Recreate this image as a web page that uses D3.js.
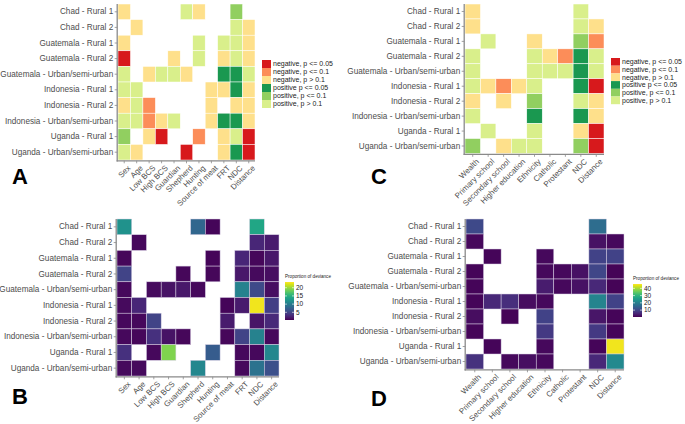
<!DOCTYPE html>
<html><head><meta charset="utf-8">
<script src="https://cdn.jsdelivr.net/npm/d3@7"></script>
<style>body{margin:0;background:#fff}svg{display:block;font-family:"Liberation Sans",Arial,sans-serif}</style>
</head><body><svg id="c" width="685" height="424"></svg>
<script>
const sites = ["Chad - Rural 1","Chad - Rural 2","Guatemala - Rural 1","Guatemala - Rural 2","Guatemala - Urban/semi-urban","Indonesia - Rural 1","Indonesia - Rural 2","Indonesia - Urban/semi-urban","Uganda - Rural 1","Uganda - Urban/semi-urban"];
const varsAB = ["Sex","Age","Low BCS","High BCS","Guardian","Shepherd","Hunting","Source of meat","FRT","NDC","Distance"];
const varsCD = ["Wealth","Primary school","Secondary school","Higher education","Ethnicity","Catholic","Protestant","NDC","Distance"];
const sigLabels = ["negative, p <= 0.05","negative, p <= 0.1","negative, p > 0.1","positive p <= 0.05","positive, p <= 0.1","positive, p > 0.1"];
const sigColors = ["#d7191c","#fc8d59","#fee08b","#1a9850","#91cf60","#d9ef8b"];
// codes: 0..5 index into sigLabels, null = no cell
const _ = null;
const sigA = [
 [2,_,_,_,_,5,2,_,_,4,_],
 [_,2,_,_,_,_,_,_,_,5,2],
 [2,_,_,_,_,_,5,_,5,5,2],
 [0,_,_,_,2,_,5,_,2,5,2],
 [5,_,2,5,5,2,_,_,3,3,5],
 [5,5,_,_,_,_,_,2,2,3,2],
 [2,5,1,_,_,_,_,2,_,2,2],
 [5,5,1,2,5,_,_,2,3,3,2],
 [4,_,2,0,_,_,1,_,2,5,0],
 [5,2,_,_,_,0,_,_,2,3,0]
];
const sigC = [
 [2,_,_,_,_,_,_,5,_],
 [2,_,_,_,_,_,_,5,2],
 [_,5,_,_,2,_,_,4,1],
 [5,_,_,_,5,2,1,3,5],
 [5,_,_,_,5,5,5,3,5],
 [5,2,1,2,5,_,_,3,0],
 [2,_,2,_,4,_,_,5,2],
 [5,_,_,_,3,_,_,3,2],
 [_,5,_,_,5,_,_,2,0],
 [4,_,2,5,5,_,_,4,0]
];
const devB = [
 [12,_,_,_,_,8,0.6,_,_,14,_],
 [_,0.8,_,_,_,_,_,_,_,2.8,2],
 [0.7,_,_,_,_,_,0.6,_,2.8,0.7,1.8],
 [5,_,_,_,0.7,_,0.7,_,1.8,0.9,1.2],
 [0.8,_,1,1.4,1.8,0.8,_,_,10.5,5.5,1.2],
 [0.9,2.8,_,_,_,_,_,0.6,2,23,4.5],
 [0.8,0.8,5,_,_,_,_,2,_,1.5,3],
 [0.8,0.7,3.5,1.4,0.7,_,_,0.7,5,10.5,0.8],
 [3.5,_,0.8,19,_,_,7,_,0.8,0.8,11],
 [0.9,0.9,_,_,_,11,_,_,0.8,9,6]
];
const devD = [
 [10.5,_,_,_,_,_,_,16.5,_],
 [1.5,_,_,_,_,_,_,2.5,1.5],
 [_,1.2,_,_,1.5,_,_,9.5,9.5],
 [1.2,_,_,_,1.5,1.5,2.5,10,1],
 [1.2,_,_,_,4,1.5,2.5,5.5,1],
 [1.2,5.5,6.5,2,1.5,_,_,21,9.5],
 [2,_,1,_,9.5,_,_,3,1.2],
 [1.2,_,_,_,8,_,_,8,1.2],
 [_,1.2,_,_,1.5,_,_,1.2,45],
 [7,_,1.5,2.2,1.5,_,_,5.5,22]
];
const ticksB = [5,10,15,20];
const ticksD = [10,20,30,40];

const svg = d3.select("#c");
const axisCol = "#8a8a8a", textCol = "#4d4d4d";
const FONT = '"Liberation Sans",Arial,sans-serif';

function panel(cfg){
  const g = svg.append("g");
  const x = d3.scaleBand().domain(cfg.vars).range([cfg.x0,cfg.x1]);
  const y = d3.scaleBand().domain(sites).range([cfg.y0,cfg.y1]);
  const cells = [];
  cfg.data.forEach((row,i)=>row.forEach((v,j)=>{ if(v!==null) cells.push({s:sites[i],v:cfg.vars[j],val:v}); }));
  g.selectAll("rect.cell").data(cells).join("rect")
   .attr("x",d=>x(d.v)).attr("y",d=>y(d.s))
   .attr("width",x.bandwidth()).attr("height",y.bandwidth())
   .attr("fill",d=>cfg.color(d.val))
   .attr("stroke",cfg.stroke).attr("stroke-width",0.5);
  const ya = d3.axisLeft(y).tickSize(2.5).tickPadding(1.5);
  const yg = g.append("g").attr("transform",`translate(${cfg.x0-0.8},0)`).call(ya);
  const xa = d3.axisBottom(x).tickSize(2.5).tickPadding(2);
  const xg = g.append("g").attr("transform",`translate(0,${cfg.y1+0.8})`).call(xa);
  [yg,xg].forEach(a=>{
    a.attr("font-family",FONT);
    a.select(".domain").attr("stroke",axisCol).attr("stroke-width",1.3);
    a.selectAll(".tick line").attr("stroke",axisCol).attr("stroke-width",0.8);
    a.selectAll("text").attr("fill",textCol).style("font-size","8.2px").style("font-family",FONT);
  });
  yg.select(".domain").attr("d",`M0,${cfg.y0}V${cfg.y1+1.6}`);
  xg.select(".domain").attr("d",`M${cfg.x0-1.4},0H${cfg.x1}`);
  xg.selectAll("text").style("font-size","7.9px").attr("text-anchor","end").attr("dy","0.72em")
    .attr("transform","translate(1,2) rotate(-45)").attr("y",2.5).attr("x",0);
  svg.append("text").attr("x",cfg.lx).attr("y",cfg.ly).text(cfg.letter)
   .style("font-size","22px").style("font-weight","bold").style("font-family",FONT).attr("fill","#000");
}

const sigColor = d3.scaleOrdinal().domain(d3.range(6)).range(sigColors);
const vB = d3.scaleSequential(d3.interpolateViridis).domain([0.3,23.5]);
const vD = d3.scaleSequential(d3.interpolateViridis).domain([0.5,46]);

panel({vars:varsAB,data:sigA,x0:118,x1:255,y0:4,y1:160,color:sigColor,stroke:"#ffffff",letter:"A",lx:12,ly:184});
panel({vars:varsCD,data:sigC,x0:465,x1:604,y0:4,y1:153.5,color:sigColor,stroke:"#ffffff",letter:"C",lx:371,ly:184});
panel({vars:varsAB,data:devB,x0:117,x1:279,y0:219,y1:376,color:vB,stroke:"#d9d2e6",letter:"B",lx:12,ly:404});
panel({vars:varsCD,data:devD,x0:466,x1:624,y0:219,y1:369,color:vD,stroke:"#d9d2e6",letter:"D",lx:371,ly:406});

function sigLegend(lx,ly,kh){
  const g = svg.append("g");
  sigLabels.forEach((lab,i)=>{
    g.append("rect").attr("x",lx).attr("y",ly+i*kh).attr("width",9).attr("height",kh).attr("fill",sigColors[i]);
    g.append("text").attr("x",lx+11).attr("y",ly+i*kh+kh/2).attr("dy","0.35em")
     .text(lab).style("font-size","7px").style("font-family",FONT).attr("fill","#222");
  });
}
sigLegend(262,60,8);
sigLegend(611,58,7.7);

function colorbar(cfg){
  const g = svg.append("g");
  const id = "grad"+cfg.id;
  const grad = svg.append("defs").append("linearGradient").attr("id",id)
    .attr("x1",0).attr("y1",1).attr("x2",0).attr("y2",0);
  d3.range(0,1.01,0.05).forEach(t=>grad.append("stop").attr("offset",t).attr("stop-color",d3.interpolateViridis(t)));
  const s = d3.scaleLinear().domain(cfg.scale.domain()).range([cfg.y1,cfg.y0]);
  g.append("text").attr("x",cfg.x).attr("y",cfg.y0-4).text("Proportion of deviance")
   .style("font-size","4.6px").style("font-family",FONT).attr("fill","#222");
  g.append("rect").attr("x",cfg.x).attr("y",cfg.y0).attr("width",9).attr("height",cfg.y1-cfg.y0).attr("fill",`url(#${id})`);
  cfg.ticks.forEach(t=>{
    g.append("line").attr("x1",cfg.x).attr("x2",cfg.x+2).attr("y1",s(t)).attr("y2",s(t)).attr("stroke","#fff").attr("stroke-width",0.6);
    g.append("line").attr("x1",cfg.x+7).attr("x2",cfg.x+9).attr("y1",s(t)).attr("y2",s(t)).attr("stroke","#fff").attr("stroke-width",0.6);
    g.append("text").attr("x",cfg.x+11).attr("y",s(t)).attr("dy","0.35em").text(t)
     .style("font-size","6.5px").style("font-family",FONT).attr("fill","#222");
  });
}
colorbar({id:"B",x:285,y0:282,y1:320,scale:vB,ticks:ticksB});
colorbar({id:"D",x:633,y0:284,y1:317,scale:vD,ticks:ticksD});
</script></body></html>
